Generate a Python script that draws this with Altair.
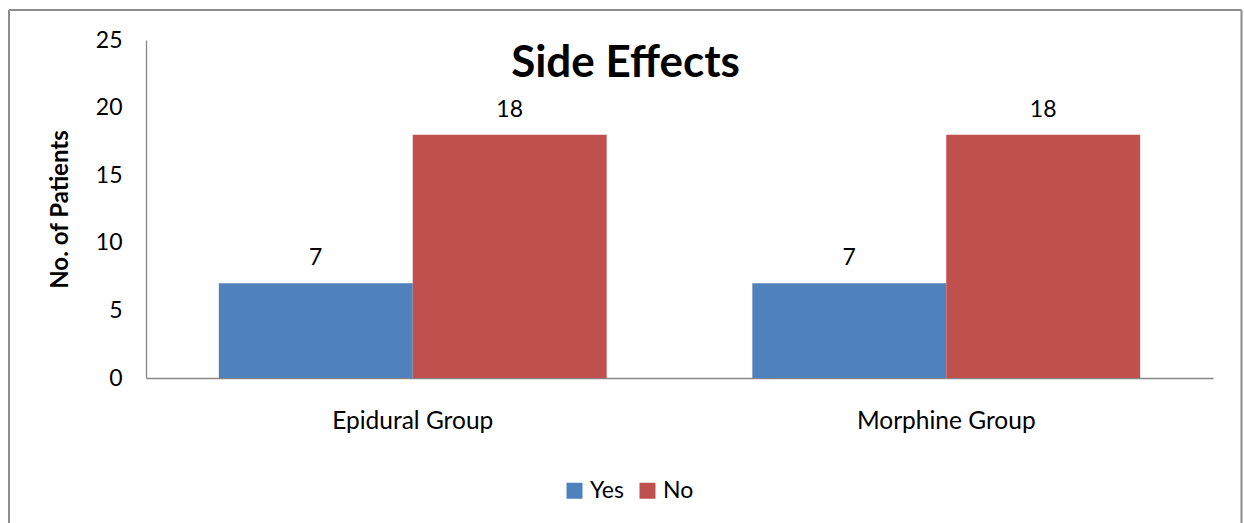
import altair as alt
import pandas as pd

# Side-effect counts per analgesia group
categories = ["Epidural Group", "Morphine Group"]
series = ["Yes", "No"]
yes_values = [7, 7]
no_values = [18, 18]
y_ticks = [0, 5, 10, 15, 20, 25]
colors = ["#4F81BD", "#C0504D"]

rows = []
for i, cat in enumerate(categories):
    rows.append({"group": cat, "answer": "Yes", "patients": yes_values[i]})
    rows.append({"group": cat, "answer": "No", "patients": no_values[i]})
df = pd.DataFrame(rows)

FONT = "Lato"
W, H = 1067, 338

x_enc = alt.X(
    "group:N",
    sort=categories,
    scale=alt.Scale(paddingInner=0.273, paddingOuter=0.1365),
    axis=alt.Axis(
        title=None, labelAngle=0, ticks=False, labelPadding=31,
        labelFontSize=24.5, labelFont=FONT, labelColor="#000000",
        domainColor="#868686", domainWidth=1.3,
    ),
)
xoff = alt.XOffset("answer:N", sort=series, scale=alt.Scale(paddingInner=0, paddingOuter=0))
y_enc = alt.Y(
    "patients:Q",
    scale=alt.Scale(domain=[0, 25], nice=False),
    axis=alt.Axis(
        values=y_ticks, grid=False, ticks=False, labelPadding=24,
        labelFontSize=23, labelFont=FONT, labelColor="#000000",
        domainColor="#868686", domainWidth=1.3,
        title="No. of Patients", titleFont=FONT, titleFontSize=24,
        titleFontWeight="bold", titleColor="#000000",
        titleX=-86, titleY=H / 2, titleAngle=-90,
        titleAlign="center", titleBaseline="middle",
    ),
)

bars = alt.Chart(df).mark_bar(stroke=None).encode(
    x=x_enc,
    xOffset=xoff,
    y=y_enc,
    color=alt.Color(
        "answer:N",
        sort=series,
        scale=alt.Scale(domain=series, range=colors),
        legend=alt.Legend(
            title=None, orient="none", direction="horizontal",
            legendX=417, legendY=439, padding=0,
            symbolType="square", symbolSize=256, symbolStrokeWidth=0,
            labelFont=FONT, labelFontSize=23, labelColor="#000000",
            labelOffset=4, columnPadding=12,
        ),
    ),
)

labels = alt.Chart(df).mark_text(
    font=FONT, fontSize=23, color="#000000", baseline="alphabetic", dy=-18
).encode(
    x=alt.X("group:N", sort=categories),
    xOffset=xoff,
    y=alt.Y("patients:Q"),
    text=alt.Text("patients:Q"),
)

# outer chart frame (left, top and right edges)
frame_src = alt.Data(values=[{}])
frame_color = "#8C8C8C"
left_edge = alt.Chart(frame_src).mark_rule(color=frame_color, strokeWidth=2).encode(
    x=alt.value(-137), y=alt.value(-30), y2=alt.value(500)
)
right_edge = alt.Chart(frame_src).mark_rule(color=frame_color, strokeWidth=2).encode(
    x=alt.value(1095.5), y=alt.value(-30), y2=alt.value(500)
)
top_edge = alt.Chart(frame_src).mark_rule(color=frame_color, strokeWidth=2).encode(
    x=alt.value(-137), x2=alt.value(1095.5), y=alt.value(-30)
)

chart = alt.layer(bars, labels, left_edge, right_edge, top_edge).properties(
    width=W,
    height=H,
    padding={"left": 146, "top": 40, "right": 31, "bottom": 145},
    autosize=alt.AutoSizeParams(type="none"),
    background="white",
    title=alt.TitleParams(
        "Side Effects", font=FONT, fontSize=44, fontWeight="bold",
        color="#000000", anchor="middle", dx=-54, frame="group",
        baseline="alphabetic", dy=116,
    ),
).configure_view(stroke=None)

chart.save("out.html", embed_options={"renderer": "svg", "actions": False})
